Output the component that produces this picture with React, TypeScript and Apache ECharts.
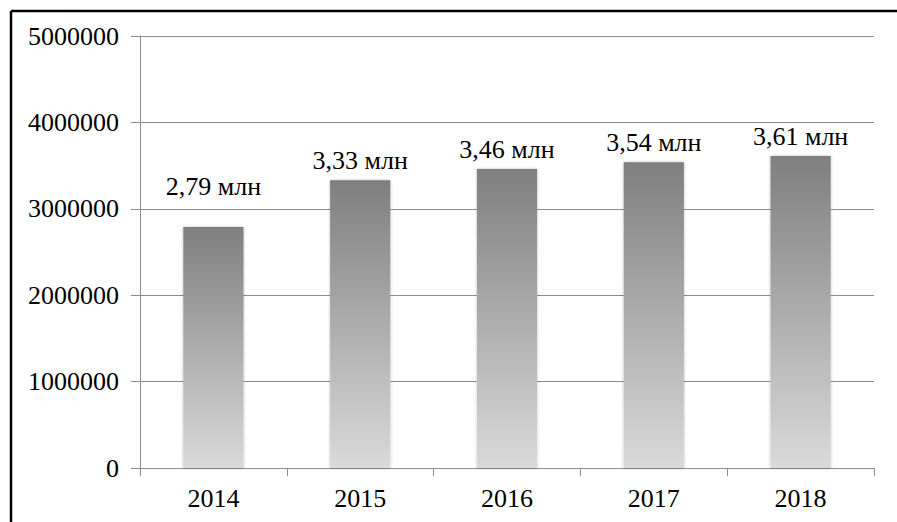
import React, { useEffect, useRef } from "react";
import * as echarts from "echarts";

const categories = ["2014", "2015", "2016", "2017", "2018"];
const values = [2790000, 3330000, 3460000, 3540000, 3610000];
const labels = ["2,79 млн", "3,33 млн", "3,46 млн", "3,54 млн", "3,61 млн"];
const labelDistances = [27, 7, 7, 7, 7];
const yMax = 5000000;
const yInterval = 1000000;

const FONT = "'Liberation Serif', 'Times New Roman', serif";

export default function App() {
  const ref = useRef<HTMLDivElement>(null);
  useEffect(() => {
    if (!ref.current) return;
    const chart = echarts.init(ref.current, undefined, { renderer: "svg" });
    chart.setOption({
      animation: false,
      backgroundColor: "#ffffff",
      grid: { left: 140, right: 23, top: 36, bottom: 54, containLabel: false },
      xAxis: {
        type: "category",
        data: categories,
        axisLine: { lineStyle: { color: "#8c8c8c", width: 1 } },
        axisTick: { show: true, length: 8, alignWithLabel: false, lineStyle: { color: "#8c8c8c" } },
        axisLabel: { color: "#000", fontFamily: FONT, fontSize: 26, margin: 17 },
      },
      yAxis: {
        type: "value",
        min: 0,
        max: yMax,
        interval: yInterval,
        axisLine: { show: true, lineStyle: { color: "#8c8c8c", width: 1 } },
        axisTick: { show: true, inside: false, length: 9, lineStyle: { color: "#8c8c8c" } },
        splitLine: { show: true, lineStyle: { color: "#8c8c8c", width: 1 } },
        axisLabel: {
          color: "#000",
          fontFamily: FONT,
          fontSize: 26,
          margin: 21,
          formatter: (v: number) => String(v),
        },
      },
      series: [
        {
          type: "bar",
          barWidth: "41%",
          data: values.map((v, i) => ({
            value: v,
            label: { distance: labelDistances[i], formatter: labels[i] },
          })),
          itemStyle: {
            color: new echarts.graphic.LinearGradient(0, 0, 0, 1, [
              { offset: 0, color: "#7f7f7f" },
              { offset: 1, color: "#dadada" },
            ]),
            shadowBlur: 3,
            shadowColor: "rgba(0,0,0,0.25)",
          },
          label: {
            show: true,
            position: "top",
            color: "#000",
            fontFamily: FONT,
            fontSize: 26,
          },
        },
      ],
      graphic: [
        {
          type: "line",
          shape: { x1: 11, y1: 11, x2: 897, y2: 11 },
          style: { stroke: "#000", lineWidth: 2.5 },
        },
        {
          type: "line",
          shape: { x1: 11, y1: 11, x2: 11, y2: 522 },
          style: { stroke: "#000", lineWidth: 2.5 },
        },
      ],
    });
    return () => chart.dispose();
  }, []);
  return (
    <div
      ref={ref}
      style={{ position: "absolute", left: 0, top: 0, width: 897, height: 522 }}
    />
  );
}
